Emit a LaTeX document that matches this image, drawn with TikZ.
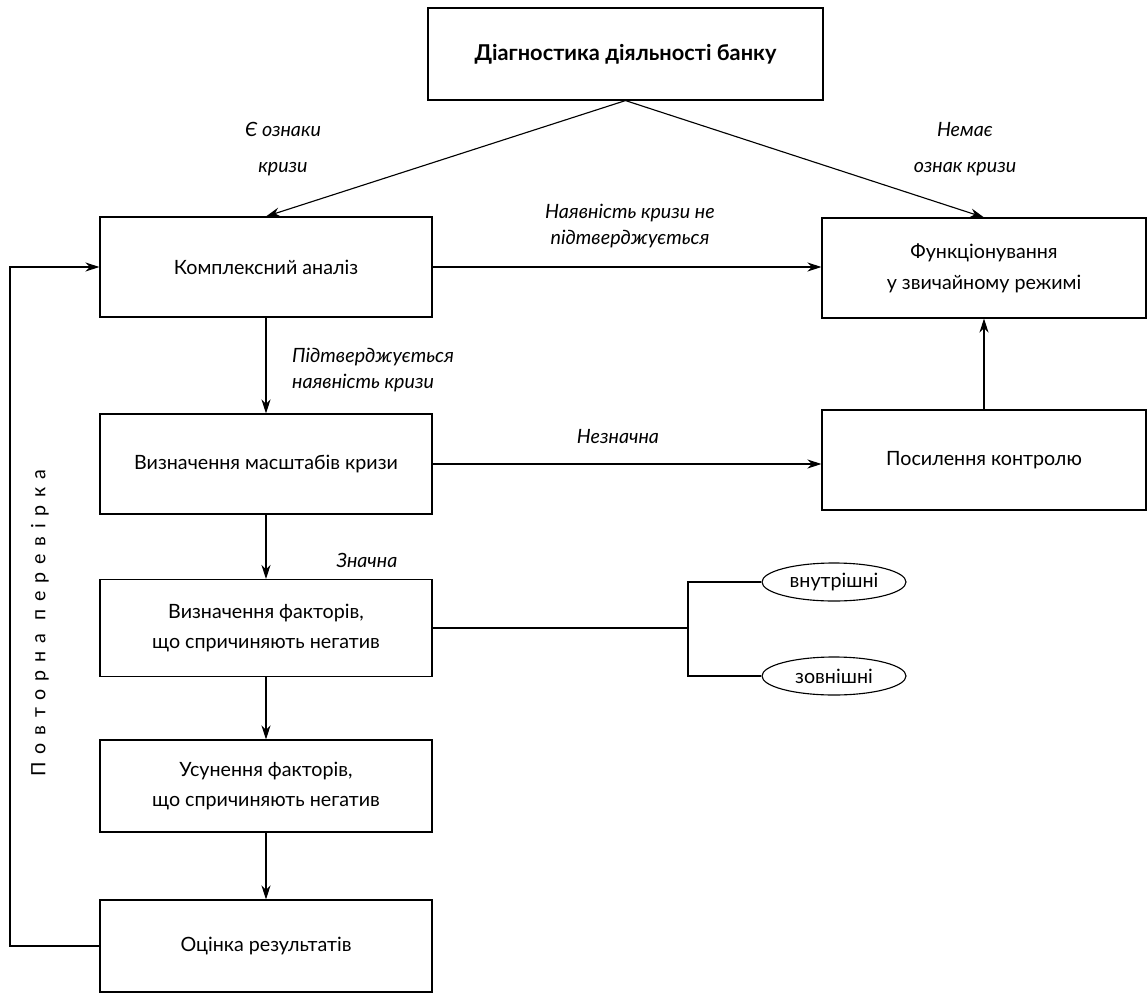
\documentclass[tikz,border=0pt]{standalone}
\usepackage{fontspec}
\setmainfont{Lato}
\newfontfamily\spacedfont{Lato}[LetterSpace=40]
\usetikzlibrary{shapes.geometric, arrows.meta, calc}

\begin{document}
\begin{tikzpicture}[x=0.025cm, y=-0.025cm,
        box/.style={draw, line width=0.8pt, rectangle, align=center, minimum width=8.3cm, minimum height=2.5cm, font=\fontsize{14}{17}\selectfont},
        oval/.style={draw, line width=0.8pt, ellipse, minimum width=3.6cm, minimum height=0.95cm, inner sep=0pt, font=\fontsize{14}{17}\selectfont},
        arr/.style={line width=0.8pt, -{Stealth[length=10pt, width=6.5pt]}},
        link/.style={line width=0.8pt},
        note/.style={align=center, font=\fontsize{14}{17}\selectfont\itshape}]
        \useasboundingbox (0,0) rectangle (1147,994);
        \node (diag) [box, minimum width=9.875cm, minimum height=2.3cm, font=\fontsize{15.5}{18}\selectfont\bfseries] at (625.5,54) {Діагностика діяльності банку};
        \node (kompl) [box] at (266,267) {Комплексний аналіз};
        \node (funk) [box, minimum width=8.1cm] at (984,268) {Функціонування\\[5pt]у звичайному режимі};
        \node (masht) [box] at (266,464) {Визначення масштабів кризи};
        \node (kontr) [box, minimum width=8.1cm] at (984,460) {Посилення контролю};
        \node (fakt) [box, minimum height=2.425cm] at (266,628) {Визначення факторів,\\[5pt]що спричиняють негатив};
        \node (usun) [box, minimum height=2.3cm] at (266,786) {Усунення факторів,\\[5pt]що спричиняють негатив};
        \node (ocin) [box, minimum height=2.3cm] at (266,946) {Оцінка результатів};
        \node (vnutr) [oval] at (834,582) {внутрішні};
        \node (zovn) [oval] at (834,676) {зовнішні};
        \coordinate (rozg) at (688,628);
        \coordinate (povt) at (10,946);

        \node (oznaky) [note] at (283,149) {Є ознаки\\[9pt]кризи};
        \node (nemae) [note] at (965,149) {Немає\\[9pt]ознак кризи};
        \node (nayavn) [note] at (630,226) {Наявність кризи не\\[2pt]підтверджується};
        \node (pidtv) [note, align=left] at (373,370) {Підтверджується\\[1pt]наявність кризи};
        \node (neznach) [note] at (618,437) {Незначна};
        \node (znach) [note] at (367,560) {Значна};
        \node (povtor) [rotate=90, font=\fontsize{14}{17}\selectfont\spacedfont] at (40,623) {Повторна перевірка};

        \draw [arr] (diag.south) -- (kompl.north);
        \draw [arr] (diag.south) -- (funk.north);
        \draw [arr] (kompl.east) -- (funk.west |- kompl.east);
        \draw [arr] (kompl) -- (masht);
        \draw [arr] (masht.east) -- (masht.east -| kontr.west);
        \draw [arr] (kontr) -- (funk);
        \draw [arr] (masht) -- (fakt);
        \draw [arr] (fakt) -- (usun);
        \draw [arr] (usun) -- (ocin);
        \draw [link] (fakt.east) -- (rozg);
        \draw [link] (vnutr.west) -| (rozg) |- (zovn.west);
        \draw [arr] (ocin.west) -- (povt) |- (kompl.west);
    \end{tikzpicture}
\end{document}
